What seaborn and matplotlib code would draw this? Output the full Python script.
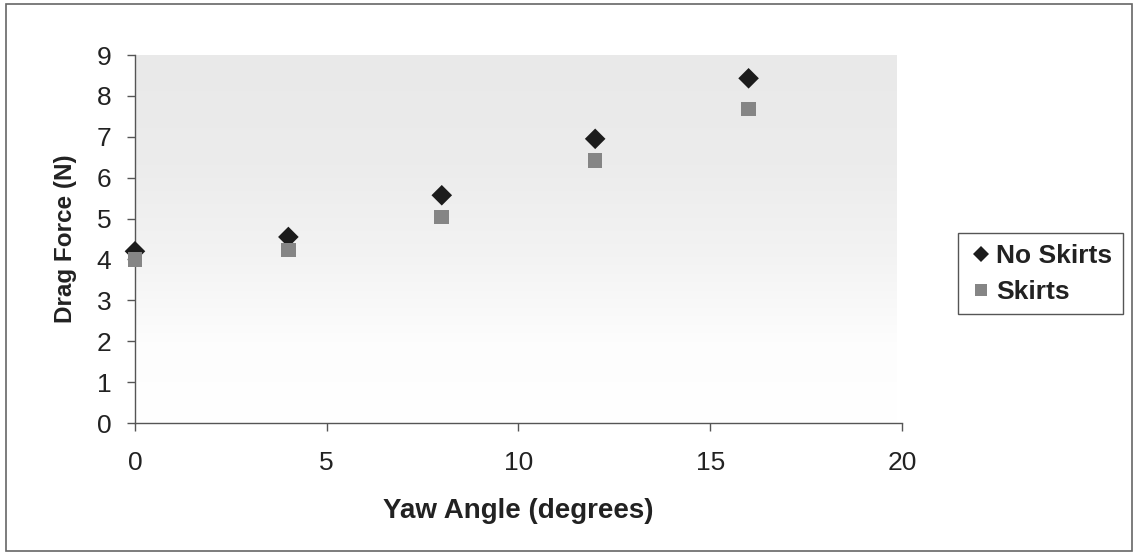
import numpy as np
import pandas as pd
import matplotlib
matplotlib.use("Agg")
import matplotlib.pyplot as plt
import seaborn as sns
from matplotlib.colors import LinearSegmentedColormap
from matplotlib.patches import Rectangle

# Measured drag force at each yaw angle
yaw_angle = [0, 4, 8, 12, 16]
no_skirts = [4.2, 4.55, 5.57, 6.95, 8.43]
skirts = [4.0, 4.23, 5.04, 6.42, 7.68]
series_names = ["No Skirts", "Skirts"]

df = pd.DataFrame({
    "Yaw Angle (degrees)": yaw_angle * 2,
    "Drag Force (N)": no_skirts + skirts,
    "Series": [series_names[0]] * len(yaw_angle) + [series_names[1]] * len(yaw_angle),
})

sns.set_theme(style="white")
plt.rcParams["font.family"] = ["Liberation Sans", "DejaVu Sans"]

fig = plt.figure(figsize=(11.38, 5.55), dpi=100)
ax = fig.add_axes([0.1186, 0.2378, 0.6740, 0.6631])

# Grey-to-white vertical gradient behind the data
grad = np.linspace(0, 1, 256).reshape(-1, 1)
cmap = LinearSegmentedColormap.from_list(
    "bg", [(0.0, "#ffffff"), (0.22, "#fdfdfd"), (0.45, "#f3f3f3"),
           (0.7, "#ececec"), (1.0, "#e9e9e9")])
ax.imshow(grad, cmap=cmap, aspect="auto", extent=[0, 19.85, 0, 9],
          origin="lower", zorder=0, interpolation="bicubic")

sns.scatterplot(
    data=df, x="Yaw Angle (degrees)", y="Drag Force (N)",
    hue="Series", style="Series",
    palette={"No Skirts": "#1c1c1c", "Skirts": "#858585"},
    markers={"No Skirts": "D", "Skirts": "s"},
    s=110, linewidth=0, ax=ax, zorder=3, clip_on=False,
)

ax.set_xlim(0, 20)
ax.set_ylim(0, 9)
ax.set_xticks([0, 5, 10, 15, 20])
ax.set_yticks(range(0, 10))
for side in ["top", "right"]:
    ax.spines[side].set_visible(False)
for side in ["left", "bottom"]:
    ax.spines[side].set_color("#555555")
    ax.spines[side].set_linewidth(1.0)
ax.tick_params(axis="both", which="both", direction="out", length=6, width=1,
               color="#555555", labelsize=19, labelcolor="#222222",
               left=True, bottom=True)
ax.tick_params(axis="x", pad=14)
ax.tick_params(axis="y", pad=11)

ax.set_xlabel("Yaw Angle (degrees)", fontsize=20, fontweight="bold",
              color="#222222", labelpad=17)
ax.set_ylabel("Drag Force (N)", fontsize=17.5, fontweight="bold",
              color="#222222", labelpad=14)

leg = ax.legend(loc="center left", bbox_to_anchor=(1.056, 0.405), frameon=True,
                fancybox=False, framealpha=1, edgecolor="#555555",
                prop={"size": 19, "weight": "bold"}, handletextpad=0.15,
                borderpad=0.4, labelspacing=0.45, handlelength=0.9,
                markerscale=0.8, title=None)
leg.get_frame().set_linewidth(1.0)
for t in leg.get_texts():
    t.set_color("#222222")

# Outer chart border
fig.patches.append(Rectangle((0.005, 0.008), 0.99, 0.984, transform=fig.transFigure,
                             fill=False, edgecolor="#666666", linewidth=1.2))

fig.savefig("out.png", dpi=100)
